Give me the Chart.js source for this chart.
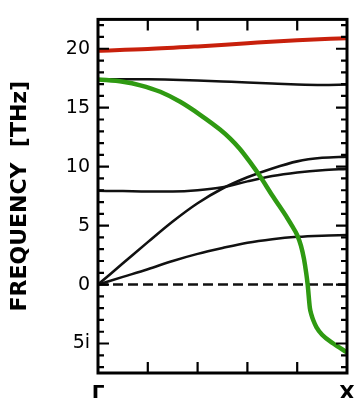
<!DOCTYPE html>
<html>
<head>
<meta charset="utf-8">
<script src="https://cdn.jsdelivr.net/npm/chart.js@4.4.1/dist/chart.umd.min.js"></script>
<style>
  html, body { margin: 0; padding: 0; background: #fff; }
</style>
</head>
<body>
<canvas id="c" width="354" height="398"></canvas>
<script>
// k along Gamma -> X (0..1), frequencies in THz (negative = imaginary)
const kPath = [0, 0.1, 0.2, 0.3, 0.4, 0.5, 0.6, 0.7, 0.8, 0.9, 1.0];
const acousticLow = [0, 0.65, 1.3, 2.0, 2.6, 3.1, 3.55, 3.85, 4.05, 4.15, 4.2];
const acousticHigh = [0, 1.8, 3.6, 5.35, 6.9, 8.15, 9.1, 9.85, 10.45, 10.75, 10.85];
const opticalMid = [7.95, 7.93, 7.9, 7.9, 8.0, 8.25, 8.75, 9.2, 9.5, 9.7, 9.8];
const opticalTop = [17.42, 17.42, 17.42, 17.38, 17.3, 17.22, 17.14, 17.05, 16.97, 16.93, 16.97];

const redK = [0, 0.2, 0.4, 0.6, 0.8, 1.0];
const redBand = [19.83, 19.97, 20.2, 20.47, 20.72, 20.9];

const greenK = [0, 0.1, 0.17, 0.25, 0.33, 0.41, 0.49, 0.53, 0.57, 0.61, 0.65, 0.70, 0.76, 0.78, 0.80, 0.815, 0.827, 0.836, 0.842, 0.851, 0.857, 0.865, 0.877, 0.9, 0.945, 1.0];
const greenBand = [17.4, 17.2, 16.9, 16.35, 15.5, 14.4, 13.15, 12.4, 11.5, 10.4, 9.2, 7.55, 5.65, 4.95, 4.2, 3.3, 2.2, 1.0, 0, -2.0, -2.55, -3.05, -3.6, -4.25, -5.0, -5.75];

const zeroK = [0, 1];
const zeroLine = [0, 0];

const xLabels = { 0: 'Γ', 1: 'X' };

const pts = (ks, vs) => ks.map((k, i) => ({ x: k, y: vs[i] }));

const band = (ks, vs, color, width) => ({
  data: pts(ks, vs),
  borderColor: color,
  borderWidth: width,
  pointRadius: 0,
  cubicInterpolationMode: 'monotone',
  fill: false
});

// inward tick marks + frame, taken from the scales
const frameTicks = {
  id: 'frameTicks',
  afterDraw(chart) {
    const { ctx, chartArea: a, scales } = chart;
    ctx.save();
    ctx.strokeStyle = '#000';
    ctx.lineWidth = 2.2;
    scales.y.ticks.forEach(t => {
      const py = scales.y.getPixelForValue(t.value);
      const len = Math.round(t.value) % 5 === 0 ? 11 : 6;
      ctx.beginPath();
      ctx.moveTo(a.left, py); ctx.lineTo(a.left + len, py);
      ctx.moveTo(a.right, py); ctx.lineTo(a.right - len, py);
      ctx.stroke();
    });
    scales.x.ticks.forEach(t => {
      if (t.value <= 0 || t.value >= 1) return;
      const px = scales.x.getPixelForValue(t.value);
      ctx.beginPath();
      ctx.moveTo(px, a.top); ctx.lineTo(px, a.top + 11);
      ctx.moveTo(px, a.bottom); ctx.lineTo(px, a.bottom - 11);
      ctx.stroke();
    });
    ctx.lineWidth = 3;
    ctx.strokeRect(a.left, a.top, a.right - a.left, a.bottom - a.top);
    ctx.restore();
  }
};

new Chart(document.getElementById('c'), {
  type: 'line',
  data: {
    datasets: [
      band(redK, redBand, '#c8200c', 4),
      band(greenK, greenBand, '#2f9a12', 4.5),
      band(kPath, opticalTop, '#111', 2.5),
      band(kPath, opticalMid, '#111', 2.5),
      band(kPath, acousticHigh, '#111', 2.6),
      band(kPath, acousticLow, '#111', 2.5),
      Object.assign(band(zeroK, zeroLine, '#111', 2.5), { borderDash: [10, 5] })
    ]
  },
  options: {
    responsive: false,
    animation: false,
    layout: { padding: { left: 0, right: 7, top: 13, bottom: 0 } },
    plugins: { legend: { display: false }, tooltip: { enabled: false } },
    scales: {
      x: {
        type: 'linear',
        min: 0,
        max: 1,
        grid: { display: false, drawTicks: false },
        border: { display: false },
        ticks: {
          stepSize: 0.2,
          autoSkip: false,
          maxRotation: 0,
          padding: 9,
          color: '#000',
          font: { family: 'DejaVu Sans', size: 20, weight: 'bold' },
          callback: v => xLabels[v] ?? ''
        },
        afterFit: s => { s.height = 25; s.paddingLeft = 0; s.paddingRight = 0; }
      },
      y: {
        min: -7.5,
        max: 22.49,
        grid: { display: false, drawTicks: false },
        border: { display: false },
        ticks: {
          stepSize: 1,
          includeBounds: false,
          autoSkip: false,
          padding: 8,
          color: '#000',
          font: { family: 'DejaVu Sans', size: 19 },
          callback: v => (v % 5 !== 0 ? '' : (v < 0 ? (-v) + 'i' : String(v)))
        },
        title: {
          display: true,
          text: 'FREQUENCY  [THz]',
          color: '#000',
          padding: { top: 7, bottom: 0 },
          font: { family: 'DejaVu Sans', size: 22, weight: 'bold' }
        },
        afterFit: s => { s.width = 98; }
      }
    }
  },
  plugins: [frameTicks]
});
</script>
</body>
</html>
